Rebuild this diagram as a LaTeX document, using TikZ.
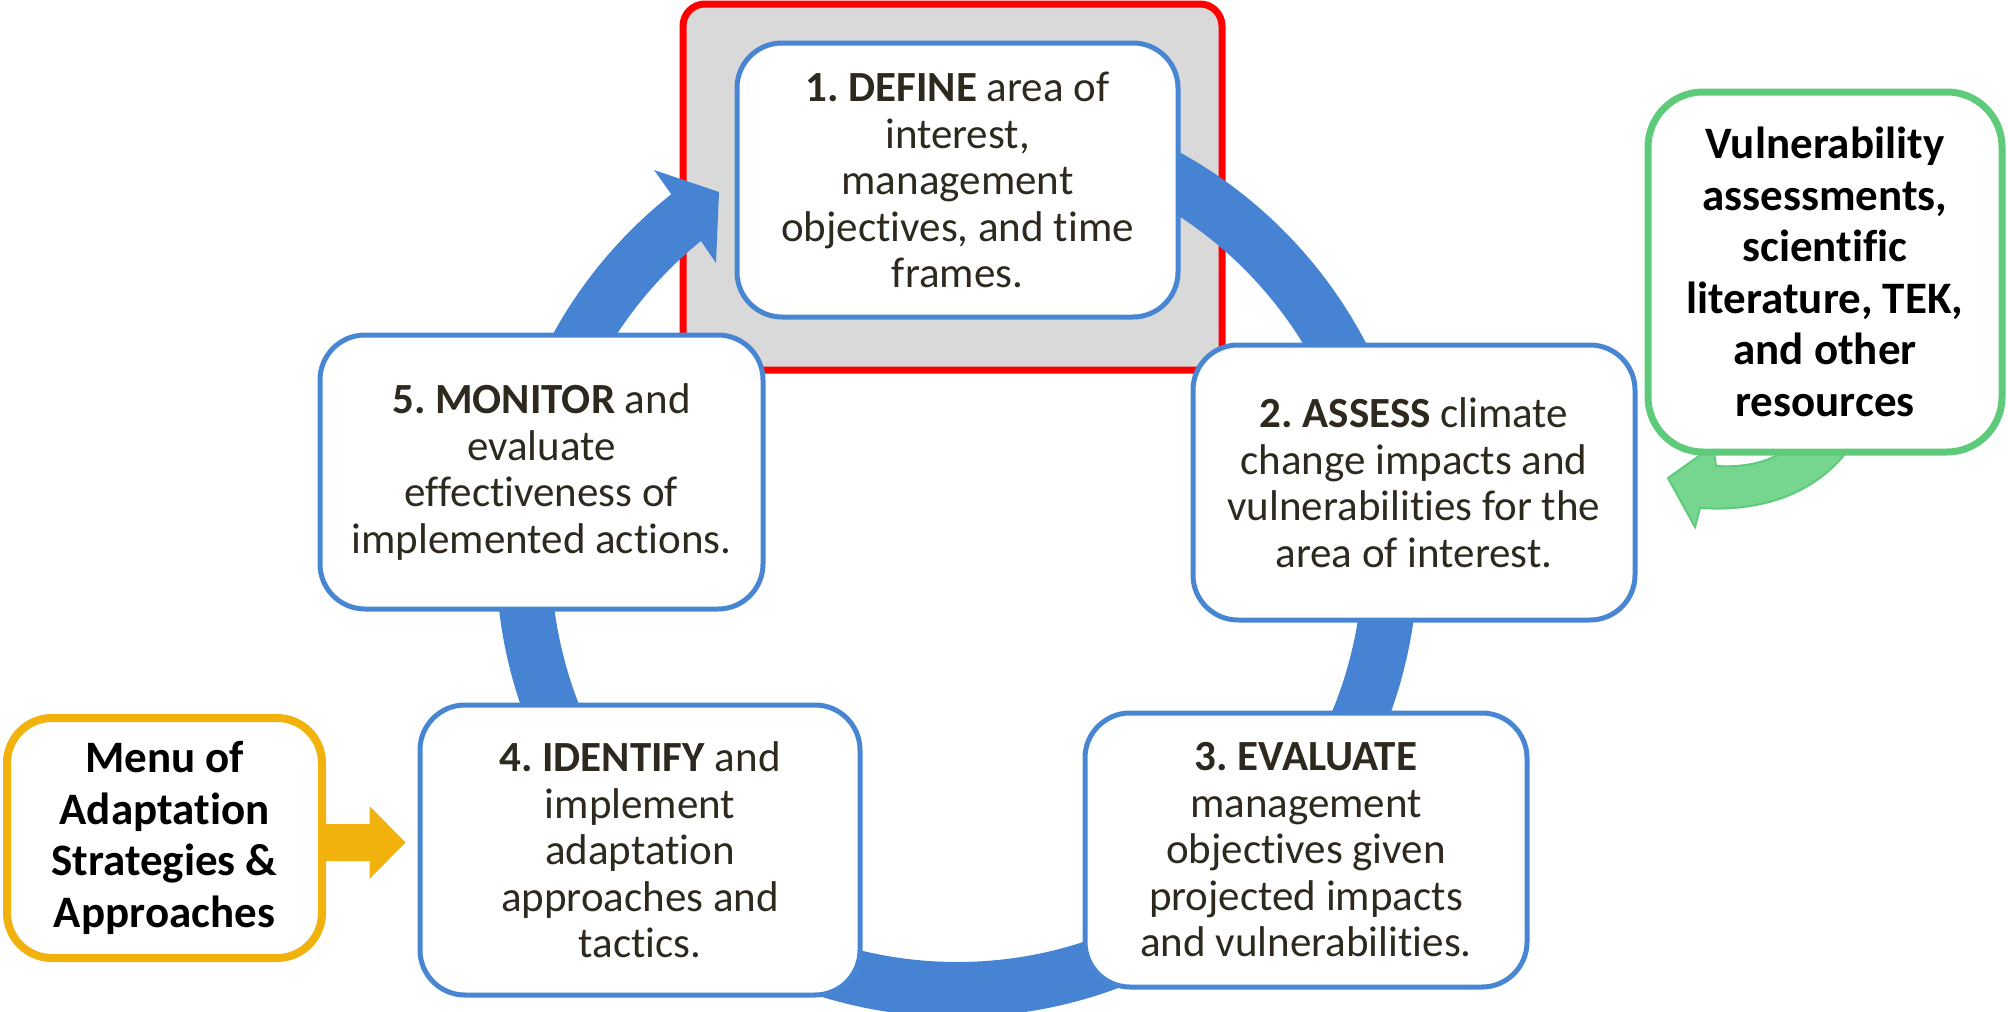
\documentclass[tikz,border=0pt]{standalone}
\usepackage{fontspec}
\setmainfont{Carlito}[Ligatures={NoCommon}]
\usetikzlibrary{calc}
\definecolor{ringblue}{RGB}{70,132,211}
\definecolor{boxblue}{RGB}{72,134,212}
\definecolor{frred}{RGB}{255,0,0}
\definecolor{frgray}{RGB}{217,217,217}
\definecolor{grnline}{RGB}{94,203,122}
\definecolor{grnfill}{RGB}{118,214,143}
\definecolor{ylw}{RGB}{241,178,14}
\definecolor{txt}{RGB}{46,41,31}
\frenchspacing
\begin{document}
\begin{tikzpicture}[x=1pt,y=-1pt,
  stepbox/.style={draw=boxblue, line width=5pt, fill=white, rounded corners=45pt,
    inner sep=0pt, align=center, text=txt, font=\fontsize{43}{46.5}\selectfont},
  resbox/.style={fill=white, rounded corners=50pt, inner sep=0pt, align=center,
    text=black, font=\fontsize{45}{51.5}\selectfont\bfseries},
]
\useasboundingbox (0,0) rectangle (2008,1012);
\clip (0,0) rectangle (2008,1012);

% highlighted frame behind step 1
\node[draw=frred, fill=frgray, line width=7pt, rounded corners=22pt,
  minimum width=539pt, minimum height=366pt, inner sep=0pt] (frame) at (952.5,187) {};

% cycle ring with arrow head
\coordinate (C) at (957,556);
\fill[ringblue] ($(C)+(-90:461)$) arc[start angle=-90, end angle=231.7, radius=461]
  -- (654,170) -- (719,192) -- (716,263)
  -- ($(C)+(230.9:406)$) arc[start angle=230.9, end angle=-90, radius=406] -- cycle;

% green curved arrow (behind resource box)
\fill[grnfill, draw=grnline, line width=2pt] (1855,440)
  .. controls (1820,495) and (1760,512) .. (1700,508)
  -- (1695,527) -- (1668,478) -- (1713,446) -- (1716,466)
  .. controls (1750,468) and (1780,460) .. (1795,440) -- cycle;

% boxes
\node[stepbox, minimum width=441pt, minimum height=274pt] (b1) at (957.5,180)
  {\textbf{1. DEFINE} area of\\interest,\\management\\objectives, and time\\frames.};
\node[stepbox, minimum width=442pt, minimum height=275pt] (b2) at (1414,482.5)
  {\textbf{2. ASSESS} climate\\change impacts and\\vulnerabilities for the\\area of interest.};
\node[stepbox, minimum width=442pt, minimum height=274pt] (b3) at (1306,850)
  {\textbf{3. EVALUATE}\\management\\objectives given\\projected impacts\\and vulnerabilities.};
\node[stepbox, minimum width=440pt, minimum height=290pt] (b4) at (640,850)
  {\textbf{4. IDENTIFY} and\\implement\\adaptation\\approaches and\\tactics.};
\node[stepbox, minimum width=443pt, minimum height=274pt] (b5) at (541.5,472)
  {\textbf{5. MONITOR} and\\evaluate\\effectiveness of\\implemented actions.};

\node[resbox, draw=grnline, line width=7pt, rounded corners=55pt,
  minimum width=354pt, minimum height=360pt] (gb) at (1825,272)
  {Vulnerability\\assessments,\\scientific\\literature, TEK,\\and other\\resources};

% yellow block arrow from menu box to step 4
\fill[ylw] ($(b4.west)+(-105,-26)$) -- ($(b4.west)+(-48,-26)$) -- ($(b4.west)+(-48,-44)$)
  -- ($(b4.west)+(-12,-7.5)$) -- ($(b4.west)+(-48,29)$) -- ($(b4.west)+(-48,11)$)
  -- ($(b4.west)+(-105,11)$) -- cycle;

\node[resbox, draw=ylw, line width=8pt, rounded corners=45pt,
  minimum width=315pt, minimum height=240pt] (yb) at (164.5,838)
  {Menu of\\Adaptation\\Strategies \&\\Approaches};
\end{tikzpicture}
\end{document}
